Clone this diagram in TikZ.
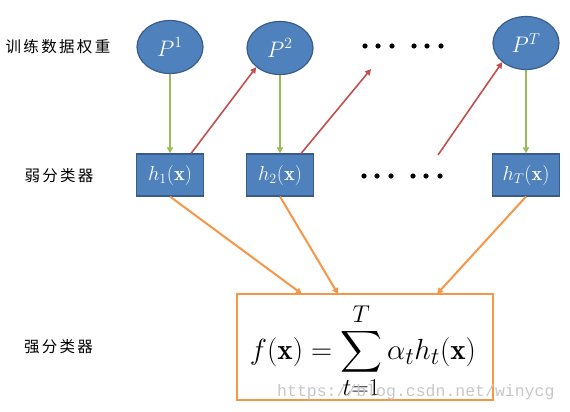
\documentclass[tikz,border=0pt]{standalone}
\usepackage{fontspec}
\usepackage{amsmath}
\newfontfamily\cjk[LetterSpace=15]{Noto Sans CJK SC}
\newfontfamily\wmfont{Liberation Mono}
\usetikzlibrary{arrows.meta,shapes.geometric}
\definecolor{fillblue}{RGB}{79,129,189}
\definecolor{edgeblue}{RGB}{56,93,138}
\definecolor{agreen}{RGB}{155,187,89}
\definecolor{ared}{RGB}{192,80,77}
\definecolor{aorange}{RGB}{247,150,70}
\tikzset{
  pnode/.style={ellipse,draw=edgeblue,line width=1.2pt,fill=fillblue,minimum width=66pt,minimum height=53pt,inner sep=0pt,text=white,font=\fontsize{17.28}{18}\selectfont},
  hnode/.style={rectangle,draw=edgeblue,line width=1.2pt,fill=fillblue,minimum width=67pt,minimum height=42pt,inner sep=0pt,text=white,font=\fontsize{17.28}{18}\selectfont},
  lab/.style={font=\cjk\fontsize{15.5}{15.5}\selectfont},
  garrow/.style={draw=agreen,line width=2pt,-{Triangle[length=6pt,width=6pt]}},
  rarrow/.style={draw=ared,line width=1.6pt,-{Triangle[length=6pt,width=6pt]}},
  oarrow/.style={draw=aorange,line width=2pt,-{Triangle[length=6pt,width=6pt]}},
  dotstyle/.style={fill=black,draw=none},
}
\newcommand{\ptext}[1]{\scalebox{1.3}{$#1$}}
\newcommand{\htext}[1]{\scalebox{1.17}{$#1$}}
\begin{document}
\begin{tikzpicture}[x=1pt,y=-1pt]
\useasboundingbox (0,0) rectangle (570,412);
% labels
\node[lab] (l1) at (58,47) {训练数据权重};
\node[lab] (l2) at (59,176) {弱分类器};
\node[lab] (l3) at (58.5,347) {强分类器};
% top ellipses
\node[pnode] (p1) at (170,47) {\ptext{P^1}};
\node[pnode] (p2) at (280,48) {\ptext{P^2}};
\node[pnode] (pT) at (526,43) {\ptext{P^T}};
% boxes
\node[hnode] (h1) at (170,175) {\htext{h_1(\mathbf{x})}};
\node[hnode] (h2) at (280,175) {\htext{h_2(\mathbf{x})}};
\node[hnode] (hT) at (526,175) {\htext{h_T(\mathbf{x})}};
% dots
\foreach \xx in {365,378,392,414,427,441}{
  \fill[dotstyle] (\xx,46) circle (2.6);
  \fill[dotstyle] (\xx-1,176) circle (2.6);
}
\coordinate (d1) at (371,69);
\coordinate (d2) at (438,155);
% strong classifier box
\node[draw=aorange,line width=1.6pt,minimum width=256pt,minimum height=106pt,inner sep=0pt] (F) at (365,347) {};
\node[inner sep=0pt,font=\fontsize{24.88}{26}\selectfont] (formula) at (363,351)
  {\scalebox{1.17}{$\displaystyle f(\mathbf{x})=\sum_{t=1}^{T}\alpha_t h_t(\mathbf{x})$}};
% green arrows
\draw[garrow] (p1.south) -- (h1.north);
\draw[garrow] (p2.south) -- (h2.north);
\draw[garrow] (pT.south) -- (hT.north);
% red arrows
\draw[rarrow] (h1.north east) ++(-13,0) -- (p2.south west);
\draw[rarrow] (h2.north east) ++(-13,0) -- (d1);
\draw[rarrow] (d2) -- (pT.south west);
% orange arrows
\coordinate (t1) at (302,294);
\coordinate (t2) at (338,294);
\coordinate (t3) at (437,294);
\draw[oarrow] (h1.south) -- (t1);
\draw[oarrow] (h2.south) -- (t2);
\draw[oarrow] (hT.south) -- (t3);
% watermark
\node[font=\wmfont\fontsize{16.5}{16.5}\selectfont,text=black!22,anchor=west,inner sep=0pt] (wm) at (277,392) {https://blog.csdn.net/winycg};
\end{tikzpicture}
\end{document}
